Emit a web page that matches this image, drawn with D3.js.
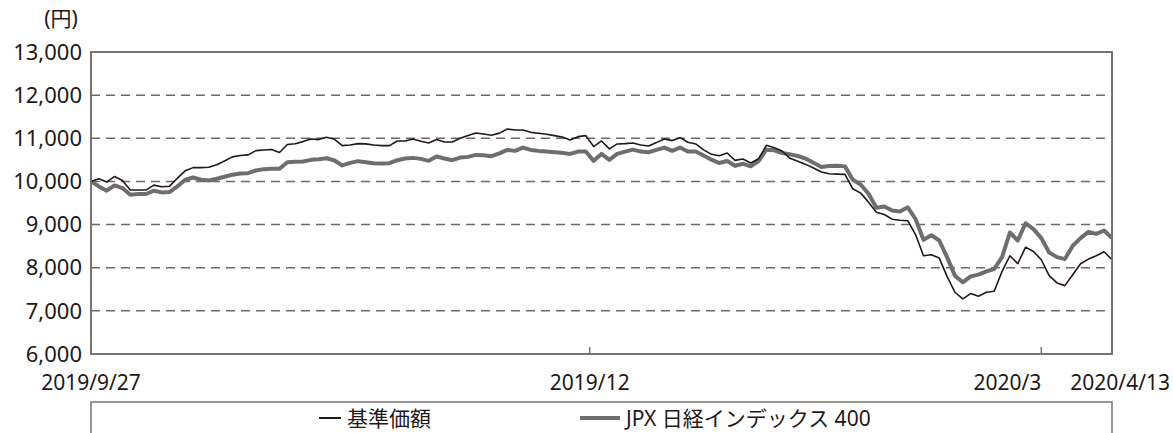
<!DOCTYPE html>
<html>
<head>
<meta charset="utf-8">
<script src="https://cdn.jsdelivr.net/npm/d3@7"></script>
<style>
  body { margin: 0; background: #fff; }
  svg text { font-family: "Noto Sans", "Noto Sans CJK JP", sans-serif; fill: #231815; }
</style>
</head>
<body>
<div id="chart"></div>
<script>
// 基準価額 (daily, trading days 2019/9/27 .. 2020/4/13)
const navValues = [
  10000, 10060, 9985, 10115, 10020, 9800, 9800, 9800, 9915, 9875,
  9890, 10075, 10245, 10320, 10320, 10330, 10385, 10475, 10570, 10600,
  10615, 10715, 10730, 10740, 10670, 10855, 10875, 10923, 10985, 10970,
  11023, 10977, 10830, 10846, 10877, 10870, 10846, 10830, 10830, 10938,
  10938, 10985, 10930, 10892, 10970, 10915, 10915, 11000, 11062, 11123,
  11100, 11070, 11120, 11215, 11192, 11192, 11138, 11115, 11092, 11062,
  11031, 10962, 11038, 11062, 10808, 10938, 10754, 10869, 10877, 10892,
  10846, 10823, 10900, 10985, 10946, 11015, 10908, 10869, 10731, 10628,
  10597, 10659, 10488, 10519, 10426, 10527, 10837, 10783, 10705, 10535,
  10465, 10395, 10310, 10217, 10178, 10170, 10163, 9830, 9729, 9520,
  9287, 9233, 9125, 9100, 9090, 8762, 8277, 8300, 8223, 7800,
  7431, 7277, 7400, 7339, 7431, 7454, 7916, 8277, 8092, 8477,
  8377, 8185, 7816, 7647, 7585, 7839, 8092, 8200, 8277, 8370,
  8185
];

// JPX 日経インデックス 400 (rebased to 10,000)
const jpxValues = [
  10000, 9885, 9785, 9908, 9846, 9692, 9708, 9708, 9785, 9746,
  9754, 9885, 10039, 10092, 10039, 10023, 10062, 10108, 10154, 10185,
  10192, 10254, 10285, 10292, 10292, 10446, 10455, 10462, 10500, 10515,
  10538, 10485, 10370, 10431, 10470, 10446, 10423, 10415, 10423, 10492,
  10531, 10546, 10523, 10477, 10577, 10531, 10492, 10554, 10569, 10615,
  10608, 10585, 10650, 10731, 10708, 10785, 10731, 10708, 10692, 10677,
  10662, 10638, 10692, 10692, 10477, 10638, 10500, 10638, 10692, 10738,
  10692, 10677, 10731, 10785, 10708, 10785, 10692, 10692, 10600, 10504,
  10426, 10473, 10364, 10411, 10349, 10473, 10736, 10721, 10659, 10628,
  10589, 10527, 10434, 10333, 10357, 10364, 10349, 10039, 9930, 9713,
  9388, 9419, 9326, 9305, 9400, 9123, 8646, 8754, 8631, 8246,
  7816, 7662, 7800, 7839, 7916, 7970, 8246, 8816, 8631, 9031,
  8893, 8685, 8354, 8246, 8200, 8508, 8685, 8831, 8785, 8862,
  8685
];

const xTickIndex = [0, 63.5, 121, 130];
const xTickLabels = ['2019/9/27', '2019/12', '2020/3', '2020/4/13'];
const yTicks = [6000, 7000, 8000, 9000, 10000, 11000, 12000, 13000];
const seriesNames = ['基準価額', 'JPX 日経インデックス 400'];

const width = 1173, height = 433;
const margin = { top: 52, right: 61, bottom: 79, left: 91 };
const frameColor = '#7a746f';

const svg = d3.select('#chart').append('svg')
  .attr('width', width)
  .attr('height', height);

const x = d3.scaleLinear()
  .domain([0, navValues.length - 1])
  .range([margin.left, width - margin.right]);

const y = d3.scaleLinear()
  .domain([6000, 13000])
  .range([height - margin.bottom, margin.top]);

// gridlines
svg.append('g')
  .selectAll('line')
  .data(yTicks.filter(d => d > 6000 && d < 13000))
  .enter()
  .append('line')
  .attr('x1', x.range()[0])
  .attr('x2', x.range()[1])
  .attr('y1', d => y(d))
  .attr('y2', d => y(d))
  .attr('stroke', '#6f6963')
  .attr('stroke-width', 1.5)
  .attr('stroke-dasharray', '9,6');

// y axis labels
const yAxis = d3.axisLeft(y)
  .tickValues(yTicks)
  .tickSize(0)
  .tickPadding(9)
  .tickFormat(d3.format(','));

svg.append('g')
  .attr('transform', `translate(${margin.left},0)`)
  .call(yAxis)
  .call(g => g.select('.domain').remove())
  .call(g => g.selectAll('text')
    .attr('font-size', 22)
    .attr('fill', '#231815')
    .attr('dy', '0.33em'));

svg.append('text')
  .attr('x', 61)
  .attr('y', 26)
  .attr('text-anchor', 'middle')
  .attr('font-size', 21)
  .text('(円)');

// series lines
const line = d3.line()
  .x((d, i) => x(i))
  .y(d => y(d));

svg.append('path')
  .datum(jpxValues)
  .attr('fill', 'none')
  .attr('stroke', '#6e6e6e')
  .attr('stroke-width', 4)
  .attr('stroke-linejoin', 'round')
  .attr('d', line);

svg.append('path')
  .datum(navValues)
  .attr('fill', 'none')
  .attr('stroke', '#231815')
  .attr('stroke-width', 1.6)
  .attr('stroke-linejoin', 'round')
  .attr('d', line);

// frame
svg.append('rect')
  .attr('x', x.range()[0])
  .attr('y', y.range()[1])
  .attr('width', x.range()[1] - x.range()[0])
  .attr('height', y.range()[0] - y.range()[1])
  .attr('fill', 'none')
  .attr('stroke', frameColor)
  .attr('stroke-width', 2);

// inner ticks on the bottom axis
svg.append('g')
  .selectAll('line')
  .data(xTickIndex.slice(1, -1))
  .enter()
  .append('line')
  .attr('x1', d => x(d))
  .attr('x2', d => x(d))
  .attr('y1', y.range()[0])
  .attr('y2', y.range()[0] - 7)
  .attr('stroke', frameColor)
  .attr('stroke-width', 1.5);

// x labels
const labelAnchor = ['middle', 'middle', 'end', 'end'];
const labelShift = [0, 0, 0, 58];
svg.append('g')
  .selectAll('text')
  .data(xTickIndex)
  .enter()
  .append('text')
  .attr('x', (d, i) => x(d) + labelShift[i])
  .attr('y', 390)
  .attr('text-anchor', (d, i) => labelAnchor[i])
  .attr('font-size', 21)
  .text((d, i) => xTickLabels[i]);

// legend
svg.append('rect')
  .attr('x', x.range()[0])
  .attr('y', 402)
  .attr('width', x.range()[1] - x.range()[0])
  .attr('height', 60)
  .attr('fill', 'none')
  .attr('stroke', frameColor)
  .attr('stroke-width', 1.5);

const legendItems = [
  { name: seriesNames[0], color: '#231815', w: 2, x0: 319, len: 22 },
  { name: seriesNames[1], color: '#6e6e6e', w: 4, x0: 580, len: 40 }
];

const legend = svg.append('g').selectAll('g')
  .data(legendItems)
  .enter()
  .append('g');

legend.append('line')
  .attr('x1', d => d.x0)
  .attr('x2', d => d.x0 + d.len)
  .attr('y1', 418)
  .attr('y2', 418)
  .attr('stroke', d => d.color)
  .attr('stroke-width', d => d.w);

legend.append('text')
  .attr('x', d => d.x0 + d.len + 6)
  .attr('y', 426)
  .attr('font-size', 21)
  .text(d => d.name);
</script>
</body>
</html>
